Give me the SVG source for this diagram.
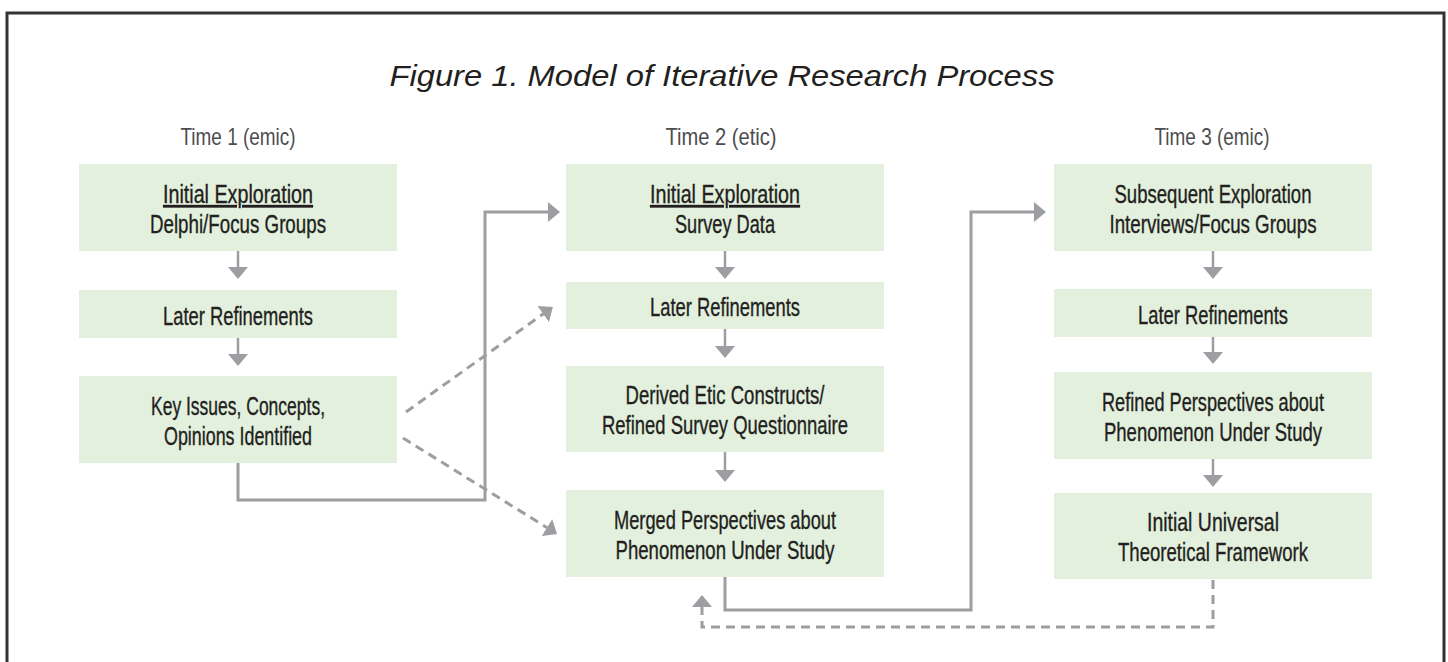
<svg xmlns="http://www.w3.org/2000/svg" width="1448" height="662" viewBox="0 0 1448 662">
<style>
.box{fill:#e2f0dd}
.t{font-family:"Liberation Sans",Arial,sans-serif;font-size:25px;fill:#231f20;stroke:#231f20;stroke-width:0.35px;text-anchor:middle}
.time{font-family:"Liberation Sans",Arial,sans-serif;font-size:24px;fill:#4d4d4f;text-anchor:middle}
.title{font-family:"Liberation Sans",Arial,sans-serif;font-size:30px;font-style:italic;fill:#231f20;text-anchor:middle}
.u{text-decoration:underline}
.c{fill:none;stroke:#9d9ea2;stroke-width:3;marker-end:url(#ah)}
.d{fill:none;stroke:#9d9ea2;stroke-width:3;stroke-dasharray:9 6;marker-end:url(#ah)}
.s{fill:none;stroke:#9d9ea2;stroke-width:2.5;marker-end:url(#ah)}
</style>
<defs>
<marker id="ah" viewBox="0 0 12 20" markerWidth="12" markerHeight="20" refX="6" refY="10" orient="auto" markerUnits="userSpaceOnUse">
<path d="M0,0 L12,10 L0,20 z" fill="#9d9ea2"/>
</marker>
</defs>
<rect width="1448" height="662" fill="#ffffff"/>
<path d="M7,663 V13 H1444 V663" fill="none" stroke="#333333" stroke-width="3"/>
<text class="title" x="722" y="86" textLength="665" lengthAdjust="spacingAndGlyphs">Figure 1. Model of Iterative Research Process</text>
<text class="time" x="238" y="145" textLength="115" lengthAdjust="spacingAndGlyphs">Time 1 (emic)</text>
<text class="time" x="721" y="145" textLength="111" lengthAdjust="spacingAndGlyphs">Time 2 (etic)</text>
<text class="time" x="1212" y="145" textLength="115" lengthAdjust="spacingAndGlyphs">Time 3 (emic)</text>

<g id="c1b1"><rect class="box" x="79" y="164" width="318" height="87"/>
<text class="t u" x="238" y="203" textLength="150" lengthAdjust="spacingAndGlyphs">Initial Exploration</text>
<text class="t" x="238" y="233" textLength="176" lengthAdjust="spacingAndGlyphs">Delphi/Focus Groups</text></g>
<g id="c1b2"><rect class="box" x="79" y="290" width="318" height="48"/>
<text class="t" x="238" y="325" textLength="150" lengthAdjust="spacingAndGlyphs">Later Refinements</text></g>
<g id="c1b3"><rect class="box" x="79" y="376" width="318" height="87"/>
<text class="t" x="238" y="415" textLength="174" lengthAdjust="spacingAndGlyphs">Key Issues, Concepts,</text>
<text class="t" x="238" y="445" textLength="148" lengthAdjust="spacingAndGlyphs">Opinions Identified</text></g>

<g id="c2b1"><rect class="box" x="566" y="164" width="318" height="87"/>
<text class="t u" x="725" y="203" textLength="150" lengthAdjust="spacingAndGlyphs">Initial Exploration</text>
<text class="t" x="725" y="233" textLength="100" lengthAdjust="spacingAndGlyphs">Survey Data</text></g>
<g id="c2b2"><rect class="box" x="566" y="282" width="318" height="47"/>
<text class="t" x="725" y="316" textLength="150" lengthAdjust="spacingAndGlyphs">Later Refinements</text></g>
<g id="c2b3"><rect class="box" x="566" y="366" width="318" height="86"/>
<text class="t" x="725" y="404" textLength="199" lengthAdjust="spacingAndGlyphs">Derived Etic Constructs/</text>
<text class="t" x="725" y="434" textLength="246" lengthAdjust="spacingAndGlyphs">Refined Survey Questionnaire</text></g>
<g id="c2b4"><rect class="box" x="566" y="490" width="318" height="87"/>
<text class="t" x="725" y="529" textLength="222" lengthAdjust="spacingAndGlyphs">Merged Perspectives about</text>
<text class="t" x="725" y="559" textLength="219" lengthAdjust="spacingAndGlyphs">Phenomenon Under Study</text></g>

<g id="c3b1"><rect class="box" x="1054" y="164" width="318" height="87"/>
<text class="t" x="1213" y="203" textLength="197" lengthAdjust="spacingAndGlyphs">Subsequent Exploration</text>
<text class="t" x="1213" y="233" textLength="207" lengthAdjust="spacingAndGlyphs">Interviews/Focus Groups</text></g>
<g id="c3b2"><rect class="box" x="1054" y="289" width="318" height="48"/>
<text class="t" x="1213" y="324" textLength="150" lengthAdjust="spacingAndGlyphs">Later Refinements</text></g>
<g id="c3b3"><rect class="box" x="1054" y="372" width="318" height="87"/>
<text class="t" x="1213" y="411" textLength="222" lengthAdjust="spacingAndGlyphs">Refined Perspectives about</text>
<text class="t" x="1213" y="441" textLength="218" lengthAdjust="spacingAndGlyphs">Phenomenon Under Study</text></g>
<g id="c3b4"><rect class="box" x="1054" y="493" width="318" height="86"/>
<text class="t" x="1213" y="531" textLength="132" lengthAdjust="spacingAndGlyphs">Initial Universal</text>
<text class="t" x="1213" y="561" textLength="190" lengthAdjust="spacingAndGlyphs">Theoretical Framework</text></g>

<g id="connectors">
<path class="s" d="M238,251 V273"/>
<path class="s" d="M238,338 V360"/>
<path class="s" d="M725,251 V273"/>
<path class="s" d="M725,329 V352"/>
<path class="s" d="M725,452 V476"/>
<path class="s" d="M1213,251 V273"/>
<path class="s" d="M1213,337 V358"/>
<path class="s" d="M1213,459 V481"/>
<path class="c" d="M238,463 V500 H485 V212 H554"/>
<path class="c" d="M725,577 V610 H971 V212 H1040"/>
<path class="d" d="M406,412 L548,310.5"/>
<path class="d" d="M403,438 L552,530.8"/>
<path class="d" d="M1213,580 V627 H702 V601"/>
</g>
</svg>
